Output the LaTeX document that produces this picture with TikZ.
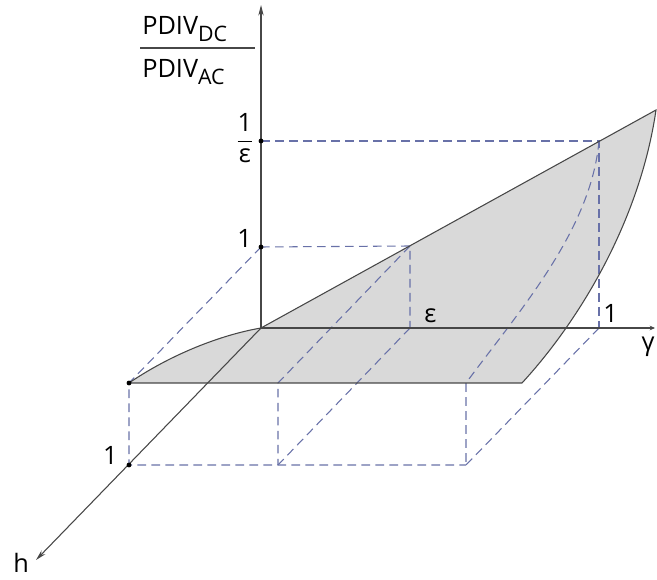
\documentclass[tikz,border=0pt]{standalone}
\usepackage{amsmath}
\usepackage{fontspec}
\setmainfont{Open Sans}
\usepackage{tikz}
\usetikzlibrary{arrows.meta}
\definecolor{guideblue}{RGB}{104,113,168}
\definecolor{surfgray}{RGB}{217,217,217}

\begin{document}
\begin{tikzpicture}[x=0.75pt,y=-0.75pt,>={Stealth[length=8pt,width=4pt]},
		guide/.style={guideblue,line width=0.8pt,dash pattern=on 6.5pt off 4pt},
		edge/.style={black!72,line width=0.8pt},
		pt/.style={circle,fill=black,inner sep=1.3pt},
		lbl/.style={inner sep=0pt,font=\fontsize{19}{22}\selectfont}]
	\useasboundingbox (0,0) rectangle (657,580);
	% points of the axes
	\coordinate (O) at (261,328);
	\coordinate (ztop) at (261,5);
	\coordinate (gend) at (655,328);
	\coordinate (hend) at (36,560);
	\coordinate (zone) at (261,247);
	\coordinate (zinv) at (261,141);
	\coordinate (geps) at (410,328);
	\coordinate (gone) at (599,328);
	\coordinate (hone) at (129,465);
	% points of the surface
	\coordinate (peps) at (410,246);
	\coordinate (pone) at (599,141);
	\coordinate (tip) at (656,110);
	\coordinate (A) at (129,383);
	\coordinate (B) at (278,383);
	\coordinate (C) at (466,383);
	\coordinate (D) at (522,383);
	\coordinate (Bb) at (278,465);
	\coordinate (Cb) at (466,465);
	% the surface
	\fill[surfgray] (O) -- (tip) .. controls (640,220) and (580,320) .. (D) -- (A) .. controls (170,355) and (220,335) .. (O) -- cycle;
	% guide lines
	\draw[guide] (zone) -- (peps) -- (geps);
	\draw[guide] (zinv) -- (pone) -- (gone);
	\draw[guide] (zone) -- (A) -- (hone) -- (Cb);
	\draw[guide] (peps) -- (B) -- (Bb);
	\draw[guide] (geps) -- (Bb);
	\draw[guide] (pone) .. controls (591,230) and (520,310) .. (C) -- (Cb);
	\draw[guide] (gone) -- (Cb);
	% axes
	\draw[edge,->] (O) -- (ztop);
	\draw[edge,-{Stealth[length=4pt,width=3.5pt]}] (O) -- (gend);
	\draw[edge,->] (O) -- (hend);
	% outline of the surface
	\draw[edge] (O) -- (tip) .. controls (640,220) and (580,320) .. (D) -- (A) .. controls (170,355) and (220,335) .. (O);
	% marks
	\node[pt] (mone) at (zone) {};
	\node[pt] (minv) at (zinv) {};
	\node[pt] (mA) at (A) {};
	\node[pt] (mh) at (hone) {};
	% labels
	\node[lbl,anchor=base west] (num) at (142,35) {PDIV\raisebox{-5pt}{\fontsize{16}{16}\selectfont DC}};
	\node[lbl,anchor=base west] (den) at (142,78) {PDIV\raisebox{-5pt}{\fontsize{16}{16}\selectfont AC}};
	\draw[edge] (140,48) -- (255,48);
	\node[lbl,anchor=base east] (linv) at (254,147) {$\dfrac{\text{1}}{\text{ε}}$};
	\node[lbl,anchor=base east] (lone) at (252,248) {1};
	\node[lbl,anchor=base west] (leps) at (424,323) {ε};
	\node[lbl,anchor=base west] (lgone) at (603,323) {1};
	\node[lbl,anchor=north] (lgam) at (648,337) {γ};
	\node[lbl,anchor=base east] (lhone) at (118,465) {1};
	\node[lbl,anchor=base west] (lh) at (13,573) {h};
\end{tikzpicture}
\end{document}
